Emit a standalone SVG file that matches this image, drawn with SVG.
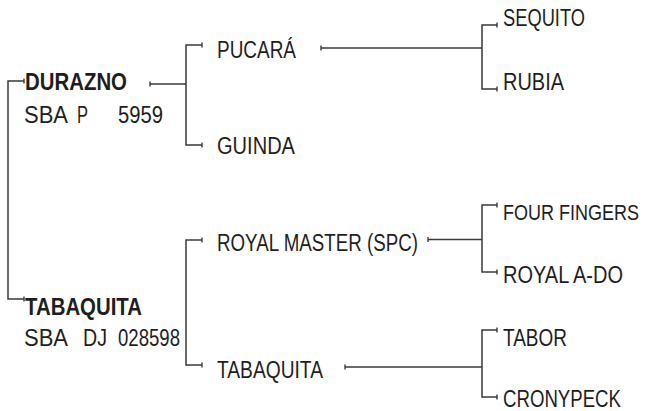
<svg xmlns="http://www.w3.org/2000/svg" width="648" height="411" viewBox="0 0 648 411">
<style>
.t{font-family:"Liberation Sans",Arial,sans-serif;font-size:23px;fill:#1e1e1e}
.b{font-weight:bold}
.s{font-size:21.5px}
.c{fill:none;stroke:#3a3a3a;stroke-width:1.5;marker-start:url(#tick)}
.k{marker-end:url(#tick)}
</style>
<defs>
<marker id="tick" viewBox="-2 -4 4 8" markerWidth="4" markerHeight="8" refX="0" refY="0" orient="auto" markerUnits="userSpaceOnUse">
<path d="M0,-2.5 V2.5" stroke="#3a3a3a" stroke-width="1.4"/>
</marker>
</defs>
<rect width="648" height="411" fill="#fff"/>
<g id="connectors">
<path class="c k" d="M24 81 H8 V299 H24"/>
<path class="c" d="M150 84 H186"/>
<path class="c k" d="M202 45 H186 V145 H202"/>
<path class="c" d="M321 48 H482"/>
<path class="c k" d="M497 25 H482 V89 H497"/>
<path class="c k" d="M202 240 H186 V365 H202"/>
<path class="c" d="M428 239.5 H482"/>
<path class="c k" d="M497 205 H482 V272 H497"/>
<path class="c" d="M345 367 H482"/>
<path class="c k" d="M497 330 H482 V397 H497"/>
</g>
<g id="durazno">
<text class="t b" x="25" y="90" textLength="102" lengthAdjust="spacingAndGlyphs">DURAZNO</text>
<text class="t" y="123"><tspan x="24" textLength="44" lengthAdjust="spacingAndGlyphs">SBA</tspan><tspan x="77" textLength="11" lengthAdjust="spacingAndGlyphs">P</tspan><tspan x="118" textLength="45" lengthAdjust="spacingAndGlyphs">5959</tspan></text>
</g>
<g id="tabaquita-dam">
<text class="t b" x="25" y="315" textLength="117" lengthAdjust="spacingAndGlyphs">TABAQUITA</text>
<text class="t" y="346"><tspan x="24" textLength="44" lengthAdjust="spacingAndGlyphs">SBA</tspan><tspan x="83" textLength="24" lengthAdjust="spacingAndGlyphs">DJ</tspan><tspan x="118" textLength="62" lengthAdjust="spacingAndGlyphs">028598</tspan></text>
</g>
<g id="pucara"><text class="t" x="217" y="58" textLength="79" lengthAdjust="spacingAndGlyphs">PUCARÁ</text></g>
<g id="guinda"><text class="t" x="217" y="154" textLength="78" lengthAdjust="spacingAndGlyphs">GUINDA</text></g>
<g id="royal-master"><text class="t" x="217" y="251" textLength="201" lengthAdjust="spacingAndGlyphs">ROYAL MASTER (SPC)</text></g>
<g id="tabaquita-sire"><text class="t" x="217" y="378" textLength="106" lengthAdjust="spacingAndGlyphs">TABAQUITA</text></g>
<g id="sequito"><text class="t" x="503" y="26" textLength="82" lengthAdjust="spacingAndGlyphs">SEQUITO</text></g>
<g id="rubia"><text class="t" x="503" y="90" textLength="61" lengthAdjust="spacingAndGlyphs">RUBIA</text></g>
<g id="four-fingers"><text class="t s" x="503" y="220" textLength="136" lengthAdjust="spacingAndGlyphs">FOUR FINGERS</text></g>
<g id="royal-a-do"><text class="t" x="503" y="283" textLength="120" lengthAdjust="spacingAndGlyphs">ROYAL A-DO</text></g>
<g id="tabor"><text class="t" x="503" y="346" textLength="64" lengthAdjust="spacingAndGlyphs">TABOR</text></g>
<g id="cronypeck"><text class="t" x="503" y="407" textLength="118" lengthAdjust="spacingAndGlyphs">CRONYPECK</text></g>
</svg>
